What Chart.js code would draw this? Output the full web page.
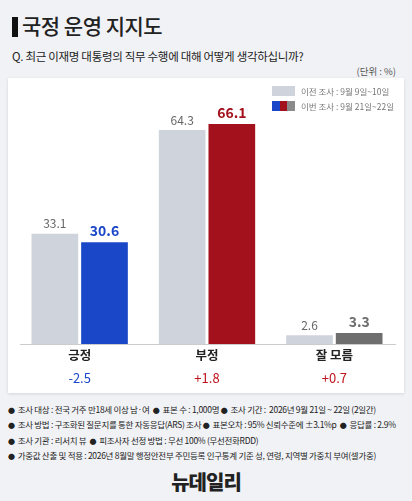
<!DOCTYPE html><html><head><meta charset="utf-8">
<script src="https://cdn.jsdelivr.net/npm/chart.js@4"></script>
<style>
body{margin:0;width:412px;height:501px;background:#f1f2f6;font-family:"Noto Sans CJK KR","Noto Sans",sans-serif;position:relative;overflow:hidden;color:#222}
.t{position:absolute;left:12px;top:10px;font-size:21px;font-weight:500;letter-spacing:-0.5px}
.t span{display:inline-block;width:6px;height:20px;background:#111;vertical-align:-3px;margin-right:4px}
.q{position:absolute;left:12px;top:48px;font-size:11.5px;letter-spacing:-0.3px}
.u{position:absolute;right:16px;top:64px;font-size:9.5px;color:#555}
.p{position:absolute;left:8px;top:78px;width:396px;height:315px;background:#fff;box-shadow:0 1px 3px rgba(0,0,0,.12)}
#c{position:absolute;left:8px;top:78px}
.lg{position:absolute;left:272px;top:84px;font-size:8.5px;color:#777;line-height:15px}
.lg i{display:inline-block;width:23px;height:10px;vertical-align:-1px;margin-right:6px}
.f{position:absolute;left:8px;top:402px;font-size:8.5px;line-height:14.3px;letter-spacing:-0.3px;color:#222}
.f b{font-size:7px;margin:0 3px 0 0}
.logo{position:absolute;left:0;width:412px;top:467px;text-align:center;font-size:20px;font-weight:900;letter-spacing:-1px}
</style></head><body>
<div class="t"><span></span>국정 운영 지지도</div>
<div class="q">Q. 최근 이재명 대통령의 직무 수행에 대해 어떻게 생각하십니까?</div>
<div class="u">(단위 : %)</div>
<div class="p"></div>
<canvas id="c" width="396" height="315"></canvas>
<div class="lg"><div><i style="background:#cfd3dc"></i>이전 조사 : 9월 9일~10일</div><div><i style="background:linear-gradient(90deg,#1a47c8 33%,#a3121c 33% 66%,#8a8a8a 66%)"></i>이번 조사 : 9월 21일~22일</div></div>
<div class="f">
<div><b>●</b>조사 대상 : 전국 거주 만18세 이상 남·여 &nbsp;<b>●</b>표본 수 : 1,000명 <b>●</b>조사 기간 : &nbsp;2026년 9월 21일 ~ 22일 (2일간)</div>
<div><b>●</b>조사 방법 : 구조화된 질문지를 통한 자동응답(ARS) 조사 <b>●</b>표본오차 : 95% 신뢰수준에 ±3.1%p &nbsp;<b>●</b>응답률 : 2.9%</div>
<div><b>●</b>조사 기관 : 리서치 뷰 &nbsp;<b>●</b>피조사자 선정 방법 : 무선 100% (무선전화RDD)</div>
<div><b>●</b>가중값 산출 및 적용 : 2026년 8월말 행정안전부 주민등록 인구통계 기준 성, 연령, 지역별 가중치 부여(셀가중)</div>
</div>
<div class="logo">뉴데일리</div>
<script>
const categories=['긍정','부정','잘 모름'];
const previous=[33.1,64.3,2.6];
const current=[30.6,66.1,3.3];
const changes=['-2.5','+1.8','+0.7'];
const curColors=['#1a47c8','#a3121c','#6e6e6e'];
const changeColors=['#1a47c8','#c0141c','#c0141c'];
const FONT='"Noto Sans CJK KR","Noto Sans",sans-serif';
const labels={id:'labels',afterDatasetsDraw(ch){
 const c=ch.ctx;c.save();c.textAlign='center';
 ch.data.datasets.forEach((ds,di)=>{ch.getDatasetMeta(di).data.forEach((b,i)=>{
  if(di===0){c.font='12px '+FONT;c.fillStyle='#666';}
  else{c.font='bold 14px '+FONT;c.fillStyle=curColors[i];}
  c.textBaseline='bottom';c.fillText(ds.data[i].toFixed(1),b.x,b.y-4);});});
 const xs=ch.scales.x,ybase=ch.chartArea.bottom;
 c.strokeStyle='#ccc';c.lineWidth=1;c.beginPath();c.moveTo(12,ybase+0.5);c.lineTo(388,ybase+0.5);c.stroke();
 categories.forEach((t,i)=>{const x=xs.getPixelForValue(i);c.textBaseline='middle';
  c.font='bold 12.5px '+FONT;c.fillStyle='#222';c.fillText(t,x,ybase+11);
  c.font='13px '+FONT;c.fillStyle=changeColors[i];c.fillText(changes[i],x,ybase+34);});
 c.restore();}};
new Chart(document.getElementById('c'),{type:'bar',
 data:{labels:categories,datasets:[
  {data:previous,backgroundColor:'#cfd3dc'},
  {data:current,backgroundColor:curColors}]},
 options:{responsive:false,animation:false,
  layout:{padding:{top:33,bottom:49,left:8,right:6}},
  plugins:{legend:{display:false},tooltip:{enabled:false}},
  datasets:{bar:{categoryPercentage:0.78,barPercentage:0.94}},
  scales:{x:{display:false},y:{display:false,min:0,max:70}}},
 plugins:[labels]});
</script>
</body></html>
